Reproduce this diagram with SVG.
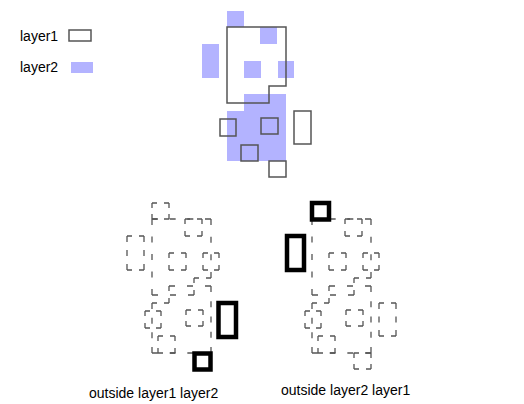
<svg xmlns="http://www.w3.org/2000/svg" width="524" height="404" viewBox="0 0 524 404">
<style>
text{font-family:"Liberation Sans",Arial,sans-serif;font-size:14px;fill:#000}
.l1{fill:none;stroke:#555;stroke-width:1.5}
.l2{fill:#b3b3ff;stroke:none}
.d path{fill:none;stroke:#555;stroke-width:1.3}
.t{fill:none;stroke:#000;stroke-width:4.5}
.k16{stroke-dasharray:5 6}.k17{stroke-dasharray:5 7}.k33{stroke-dasharray:6 7.5}.k34{stroke-dasharray:6 8}
.k42{stroke-dasharray:6 12}.k50{stroke-dasharray:6 8.667}.k59{stroke-dasharray:6 11.667}
.k67{stroke-dasharray:6 9.25}.k76{stroke-dasharray:6 11.5}
</style>
<rect width="524" height="404" fill="#fff"/>
<g id="legend">
<text x="20" y="41">layer1</text>
<rect class="l1" x="69" y="30" width="22" height="11"/>
<text x="20" y="72">layer2</text>
<rect class="l2" x="71" y="62" width="22" height="11"/>
</g>
<g id="top-layer2">
<rect class="l2" x="227" y="11" width="17" height="16"/>
<rect class="l2" x="260" y="27" width="17" height="17"/>
<rect class="l2" x="202" y="44" width="17" height="34"/>
<rect class="l2" x="244" y="61" width="17" height="17"/>
<rect class="l2" x="278" y="61" width="16" height="17"/>
<polygon class="l2" points="244,94 286,94 286,161 227,161 227,111 244,111"/>
</g>
<g id="top-layer1">
<polygon class="l1" points="227,27 286,27 286,86 269,86 269,103 227,103"/>
<rect class="l1" x="220" y="119" width="16" height="17"/>
<rect class="l1" x="261" y="118" width="17" height="16"/>
<rect class="l1" x="294" y="111" width="17" height="33"/>
<rect class="l1" x="241" y="145" width="17" height="16"/>
<rect class="l1" x="269" y="161" width="17" height="16"/>
</g>
<g id="outside-layer1-layer2">
<g class="d">
<path class="k17" d="M152 203H169M152 219H169"/><path class="k16" d="M169 203V219M152 203V219"/>
<path class="k17" d="M185 219H202M185 236H202M185 219V236M202 219V236"/>
<path class="k17" d="M127 236H144M127 270H144"/><path class="k34" d="M127 236V270M144 236V270"/>
<path class="k17" d="M169 253H186M169 270H186M169 253V270M186 253V270"/>
<path class="k16" d="M203 253H219M203 270H219"/><path class="k17" d="M203 253V270M219 253V270"/>
<path class="k42" d="M169 286H211"/><path class="k67" d="M211 286V353"/><path class="k59" d="M152 353H211"/><path class="k50" d="M152 303V353"/><path class="k17" d="M152 303H169M169 286V303"/>
<path class="k59" d="M152 219H211M211 219V278"/><path class="k17" d="M194 278H211M194 278V295"/><path class="k42" d="M152 295H194"/><path class="k76" d="M152 219V295"/>
<path class="k16" d="M145 311H161M145 328H161"/><path class="k17" d="M145 311V328M161 311V328"/>
<path class="k17" d="M186 310H203M186 326H203"/><path class="k16" d="M186 310V326M203 310V326"/>
<path class="k17" d="M158 336H175M158 353H175M158 336V353M175 336V353"/>
</g>
<rect class="t" x="218.5" y="303" width="17.5" height="34"/>
<rect class="t" x="194.5" y="353.5" width="16" height="16"/>
<text x="89" y="397.5">outside layer1 layer2</text>
</g>
<g id="outside-layer2-layer1">
<g class="d">
<path class="k17" d="M345 219H362M345 236H362M345 219V236M362 219V236"/>
<path class="k17" d="M329 253H346M329 270H346M329 253V270M346 253V270"/>
<path class="k16" d="M363 253H379M363 270H379"/><path class="k17" d="M363 253V270M379 253V270"/>
<path class="k42" d="M329 286H371"/><path class="k67" d="M371 286V353"/><path class="k59" d="M312 353H371"/><path class="k50" d="M312 303V353"/><path class="k17" d="M312 303H329M329 286V303"/>
<path class="k59" d="M312 219H371M371 219V278"/><path class="k17" d="M354 278H371M354 278V295"/><path class="k42" d="M312 295H354"/><path class="k76" d="M312 219V295"/>
<path class="k16" d="M305 311H321M305 328H321"/><path class="k17" d="M305 311V328M321 311V328"/>
<path class="k17" d="M346 310H363M346 326H363"/><path class="k16" d="M346 310V326M363 310V326"/>
<path class="k17" d="M379 303H396M379 336H396"/><path class="k33" d="M379 303V336M396 303V336"/>
<path class="k17" d="M318 336H335M318 353H335M318 336V353M335 336V353"/>
<path class="k17" d="M354 353H371M354 369H371"/><path class="k16" d="M354 353V369M371 353V369"/>
</g>
<rect class="t" x="312" y="203" width="17" height="16.5"/>
<rect class="t" x="287" y="236" width="17" height="34"/>
<text x="281" y="395">outside layer2 layer1</text>
</g>
</svg>
